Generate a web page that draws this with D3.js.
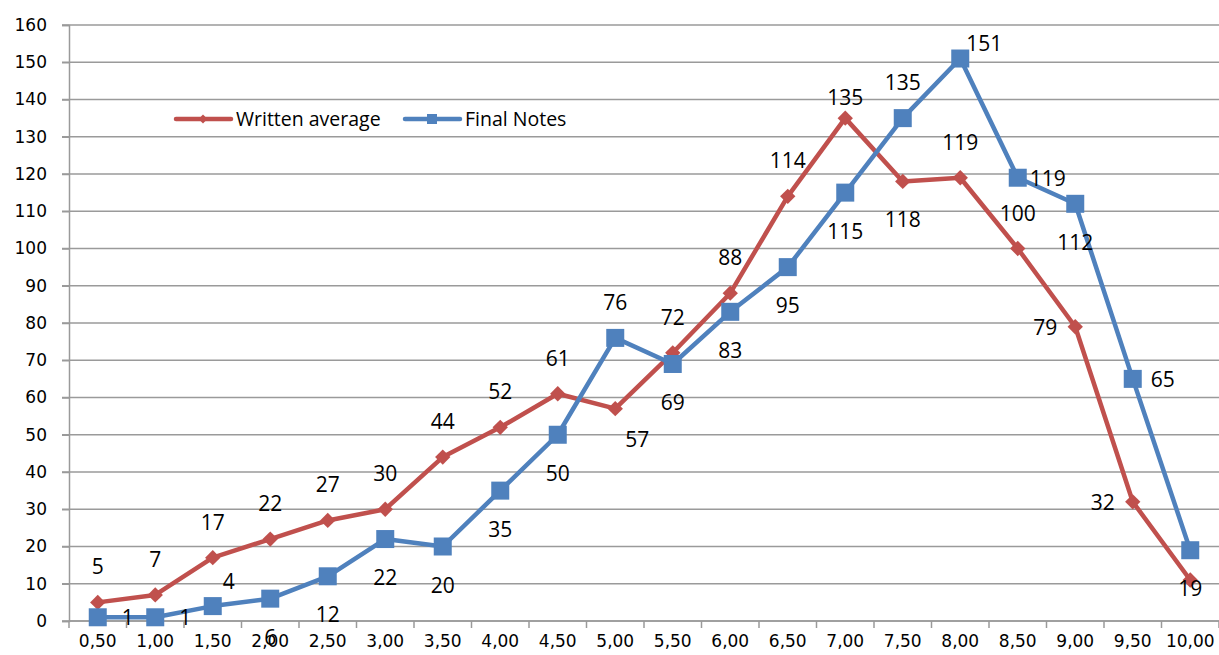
<!DOCTYPE html>
<html>
<head>
  <meta charset="utf-8">
  <title>Written average vs Final Notes</title>
  <script src="https://cdn.jsdelivr.net/npm/d3@7"></script>
  <style>
    body { margin: 0; background: #fff; }
    .tick text { font: 17px "DejaVu Sans", sans-serif; fill: #000; }
    .label { font: 21px "Open Sans", "Liberation Sans", sans-serif; fill: #000; }
    .legend text { font: 19.5px "Open Sans", "Liberation Sans", sans-serif; fill: #000; }
  </style>
</head>
<body>
<script>
  var categories = ["0,50","1,00","1,50","2,00","2,50","3,00","3,50","4,00","4,50","5,00",
                    "5,50","6,00","6,50","7,00","7,50","8,00","8,50","9,00","9,50","10,00"];
  var written = [5, 7, 17, 22, 27, 30, 44, 52, 61, 57, 72, 88, 114, 135, 118, 119, 100, 79, 32, 11];
  var finalNotes = [1, 1, 4, 6, 12, 22, 20, 35, 50, 76, 69, 83, 95, 115, 135, 151, 119, 112, 65, 19];
  var yTicks = d3.range(0, 161, 10);

  // where each data label sits relative to its point (t = top, b = bottom, r = right, l = left, n = none)
  var writtenPos = ["t","t","t","t","t","t","t","t","t","br","t","t","t","tn","b","t","t","l","l","n"];
  var finalPos = ["r","r","tr","b","b","b","b","b","b","t","b","b","b","b","t","tr2","r","b","r","b"];

  var width = 1219, height = 655;
  var margin = {top: 25, right: 0, bottom: 34, left: 69};

  var svg = d3.select("body").append("svg")
      .attr("width", width)
      .attr("height", height);

  var x = d3.scaleBand()
      .domain(categories)
      .range([margin.left, width - margin.right]);

  var y = d3.scaleLinear()
      .domain([0, 160])
      .range([height - margin.bottom, margin.top]);

  // gridlines
  svg.append("g")
      .selectAll("line")
      .data(yTicks)
      .join("line")
      .attr("x1", margin.left - 7)
      .attr("x2", width)
      .attr("y1", function(d) { return y(d); })
      .attr("y2", function(d) { return y(d); })
      .attr("stroke", "#9a9a9a")
      .attr("stroke-width", 1.5);

  // y axis
  var yAxis = svg.append("g")
      .attr("transform", "translate(" + margin.left + ",0)")
      .call(d3.axisLeft(y).tickValues(yTicks).tickSize(7).tickPadding(15));
  yAxis.select(".domain").attr("stroke", "#9a9a9a").attr("stroke-width", 1.5);
  yAxis.selectAll(".tick line").attr("stroke", "#9a9a9a").attr("stroke-width", 1.5);

  // x axis: ticks between categories
  var xAxis = svg.append("g")
      .attr("transform", "translate(0," + y(0) + ")")
      .call(d3.axisBottom(x).tickSize(0).tickPadding(14));
  xAxis.select(".domain").remove();
  xAxis.append("line")
      .attr("x1", margin.left).attr("x2", width)
      .attr("stroke", "#9a9a9a").attr("stroke-width", 1.5);
  xAxis.selectAll("line.sep")
      .data(categories.concat(["end"]))
      .join("line")
      .attr("class", "sep")
      .attr("x1", function(d, i) { return margin.left + i * x.bandwidth(); })
      .attr("x2", function(d, i) { return margin.left + i * x.bandwidth(); })
      .attr("y1", 0).attr("y2", 7)
      .attr("stroke", "#9a9a9a").attr("stroke-width", 1.5);

  var cx = function(d, i) { return x(categories[i]) + x.bandwidth() / 2; };

  var line = d3.line()
      .x(cx)
      .y(function(d) { return y(d); });

  var red = "#C0504D", blue = "#4F81BD";

  // series lines
  svg.append("path").datum(written)
      .attr("d", line).attr("fill", "none")
      .attr("stroke", red).attr("stroke-width", 4.5).attr("stroke-linejoin", "round");
  svg.append("path").datum(finalNotes)
      .attr("d", line).attr("fill", "none")
      .attr("stroke", blue).attr("stroke-width", 4.5).attr("stroke-linejoin", "round");

  // markers
  var diamond = d3.symbol().type(d3.symbolDiamond2).size(150);
  svg.append("g").selectAll("path")
      .data(written)
      .join("path")
      .attr("d", diamond)
      .attr("transform", function(d, i) { return "translate(" + cx(d, i) + "," + y(d) + ")"; })
      .attr("fill", red);

  svg.append("g").selectAll("rect")
      .data(finalNotes)
      .join("rect")
      .attr("x", function(d, i) { return cx(d, i) - 9; })
      .attr("y", function(d) { return y(d) - 9; })
      .attr("width", 18).attr("height", 18)
      .attr("fill", blue);

  // data labels
  var offsets = {
    t: [0, -28], tn: [0, -13], b: [0, 46], r: [30, 8], l: [-30, 8],
    tr: [16, -17], tr2: [24, -8], br: [22, 38], n: null
  };
  function drawLabels(values, pos) {
    svg.append("g").selectAll("text")
        .data(values)
        .join("text")
        .attr("class", "label")
        .attr("text-anchor", "middle")
        .attr("x", function(d, i) { var o = offsets[pos[i]]; return cx(d, i) + (o ? o[0] : 0); })
        .attr("y", function(d, i) { var o = offsets[pos[i]]; return y(d) + (o ? o[1] : 0); })
        .attr("display", function(d, i) { return pos[i] === "n" ? "none" : null; })
        .text(function(d) { return d; });
  }
  drawLabels(written, writtenPos);
  drawLabels(finalNotes, finalPos);

  // legend
  var legend = svg.append("g").attr("class", "legend");
  var items = [
    {name: "Written average", color: red, x: 176, marker: "diamond"},
    {name: "Final Notes", color: blue, x: 405, marker: "square"}
  ];
  items.forEach(function(it) {
    var ly = 119;
    legend.append("line")
        .attr("x1", it.x).attr("x2", it.x + 55)
        .attr("y1", ly).attr("y2", ly)
        .attr("stroke", it.color).attr("stroke-width", 4.5).attr("stroke-linecap", "round");
    if (it.marker === "diamond") {
      legend.append("path")
          .attr("d", d3.symbol().type(d3.symbolDiamond2).size(50))
          .attr("transform", "translate(" + (it.x + 27) + "," + ly + ")")
          .attr("fill", it.color);
    } else {
      legend.append("rect")
          .attr("x", it.x + 22).attr("y", ly - 5)
          .attr("width", 10).attr("height", 10)
          .attr("fill", it.color);
    }
    legend.append("text")
        .attr("x", it.x + 60).attr("y", ly + 7)
        .text(it.name);
  });
</script>
</body>
</html>
